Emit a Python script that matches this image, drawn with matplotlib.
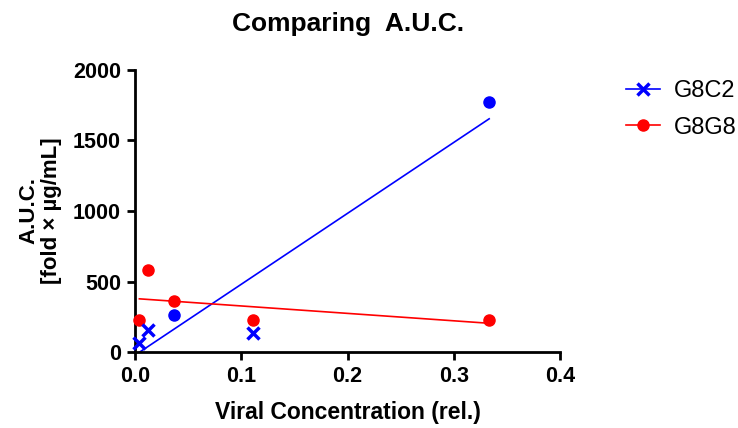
import matplotlib.pyplot as plt
import numpy as np
from matplotlib.lines import Line2D

plt.rcParams['font.family'] = ['Liberation Sans', 'DejaVu Sans']

# dilutions (relative viral concentration)
conc = [1/243, 1/81, 1/27, 1/9, 1/3]
g8c2 = [66, 157, 263, 133, 1772]
g8g8 = [228, 585, 365, 228, 228]
# which G8C2 points are drawn as dots instead of crosses
g8c2_dot = [False, False, True, False, True]

fig = plt.figure(figsize=(7.38, 4.28), dpi=100)
ax = fig.add_axes([135/738, 1 - 352/428, 425/738, 282/428])

x = np.array(conc)
for xs, ys, c in [(x, np.array(g8c2), 'blue'), (x, np.array(g8g8), 'red')]:
    m, b = np.polyfit(xs, ys, 1)
    xx = np.array([xs.min(), xs.max()])
    ax.plot(xx, m * xx + b, color=c, lw=1.2, zorder=2)

ax.plot(x, g8g8, 'o', color='red', ms=8, zorder=3, clip_on=False)
for xi, yi, dot in zip(conc, g8c2, g8c2_dot):
    if dot:
        ax.plot(xi, yi, 'o', color='blue', ms=8, zorder=3, clip_on=False)
    else:
        ax.plot(xi, yi, 'x', color='blue', ms=9, mew=2.5, zorder=3, clip_on=False)

ax.set_xlim(0, 0.4)
ax.set_ylim(0, 2000)
ax.set_xticks([0, 0.1, 0.2, 0.3, 0.4])
ax.set_xticklabels(['0.0', '0.1', '0.2', '0.3', '0.4'])
ax.set_yticks([0, 500, 1000, 1500, 2000])
for s in ['top', 'right']:
    ax.spines[s].set_visible(False)
for s in ['left', 'bottom']:
    ax.spines[s].set_linewidth(2)
ax.tick_params(width=2, length=6, labelsize=15.5, pad=4)
for lab in ax.get_xticklabels() + ax.get_yticklabels():
    lab.set_fontweight('bold')

ax.set_xlabel('Viral Concentration (rel.)', fontsize=16.5, fontweight='bold', labelpad=10)
ax.set_ylabel('A.U.C.\n[fold × µg/mL]', fontsize=16, fontweight='bold', labelpad=8,
              linespacing=1.1)
fig.text(348/738, 1 - 24/428, 'Comparing  A.U.C.', fontsize=19, fontweight='bold',
         ha='center', va='center')

handles = [Line2D([], [], color='blue', marker='x', ms=9, mew=2.5, lw=1.2),
           Line2D([], [], color='red', marker='o', ms=8, lw=1.2)]
fig.legend(handles, ['G8C2', 'G8G8'], loc='upper left', bbox_to_anchor=(617/738, 1 - 71/428),
           frameon=False, fontsize=17, handlelength=1.4, labelspacing=0.6, handletextpad=0.6,
           borderaxespad=0)

fig.savefig('out.png', dpi=100)
